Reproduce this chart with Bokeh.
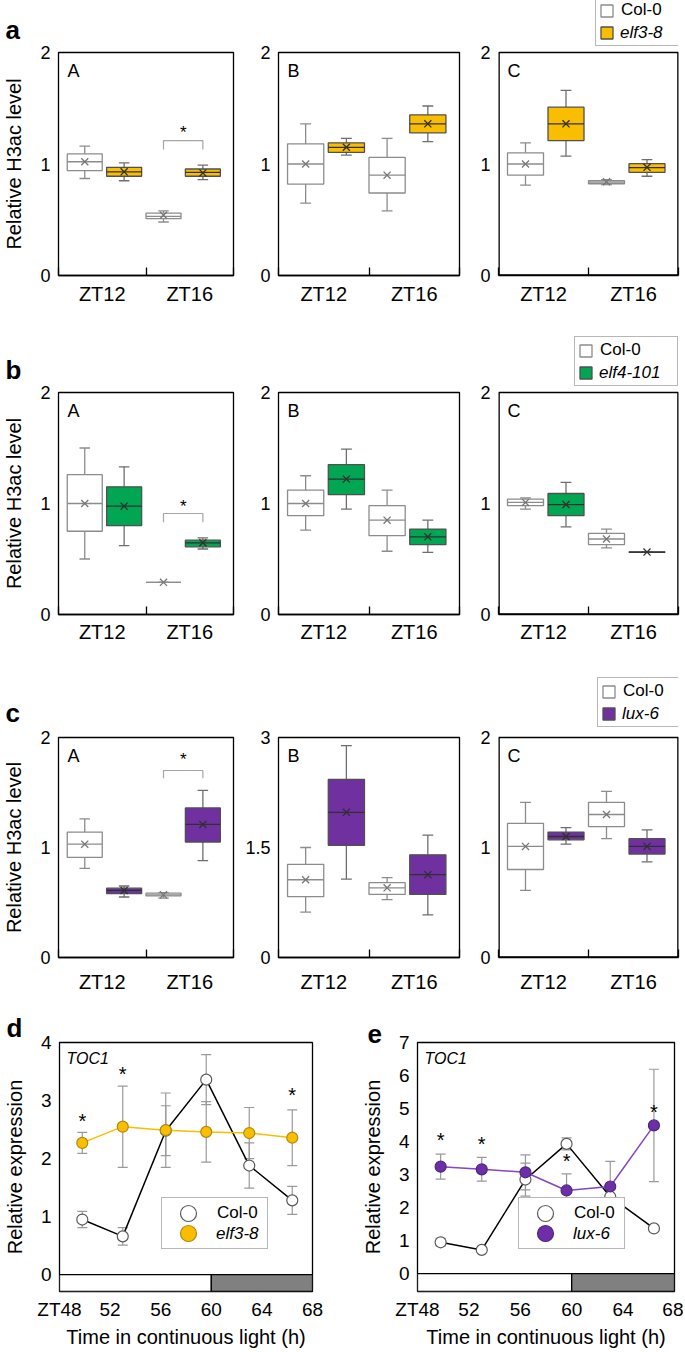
from bokeh.plotting import figure
from bokeh.layouts import row, column
from bokeh.models import (ColumnDataSource, FixedTicker, LinearAxis, Legend, LegendItem,
                          Label, Whisker, TeeHead, Range1d)
from bokeh.embed import file_html
from bokeh.resources import INLINE
from bokeh.core.properties import value

FONT = "Liberation Sans"

# ---------------- data ----------------
zt_groups = ["ZT12", "ZT16"]
regions = ["A", "B", "C"]
mutant_a = "elf3-8"
mutant_b = "elf4-101"
mutant_c = "lux-6"

# box statistics per ZT group: [whisker_low, q1, median, q3, whisker_high, mean]
a_A_col = [[0.87, 0.94, 1.02, 1.09, 1.16, 1.02], [0.48, 0.51, 0.53, 0.56, 0.58, 0.54]]
a_A_mut = [[0.85, 0.89, 0.93, 0.97, 1.01, 0.93], [0.86, 0.89, 0.925, 0.955, 0.99, 0.92]]
a_B_col = [[0.65, 0.82, 1.00, 1.18, 1.36, 1.00], [0.58, 0.74, 0.90, 1.06, 1.23, 0.90]]
a_B_mut = [[1.08, 1.105, 1.15, 1.19, 1.23, 1.15], [1.20, 1.28, 1.36, 1.44, 1.52, 1.36]]
a_C_col = [[0.81, 0.90, 1.00, 1.10, 1.19, 1.00], [0.815, 0.823, 0.838, 0.85, 0.86, 0.84]]
a_C_mut = [[1.07, 1.21, 1.36, 1.51, 1.66, 1.36], [0.89, 0.925, 0.967, 1.003, 1.04, 0.97]]

b_A_col = [[0.50, 0.75, 1.00, 1.26, 1.50, 1.00], [0.29, 0.29, 0.29, 0.29, 0.29, 0.29]]
b_A_mut = [[0.62, 0.80, 0.976, 1.15, 1.33, 0.976], [0.59, 0.61, 0.646, 0.67, 0.69, 0.646]]
b_B_col = [[0.76, 0.89, 1.00, 1.12, 1.25, 1.00], [0.57, 0.71, 0.85, 0.98, 1.12, 0.85]]
b_B_mut = [[0.95, 1.08, 1.22, 1.35, 1.49, 1.22], [0.56, 0.63, 0.70, 0.77, 0.85, 0.70]]
b_C_col = [[0.95, 0.98, 1.01, 1.04, 1.05, 1.01], [0.60, 0.63, 0.68, 0.73, 0.77, 0.68]]
b_C_mut = [[0.79, 0.89, 0.99, 1.09, 1.19, 0.99], [0.559, 0.561, 0.562, 0.563, 0.565, 0.562]]

c_A_col = [[0.81, 0.91, 1.03, 1.14, 1.26, 1.03], [0.54, 0.56, 0.57, 0.585, 0.59, 0.57]]
c_A_mut = [[0.55, 0.58, 0.61, 0.63, 0.65, 0.61], [0.88, 1.05, 1.21, 1.36, 1.52, 1.21]]
c_B_col = [[0.62, 0.83, 1.06, 1.27, 1.50, 1.06], [0.79, 0.86, 0.95, 1.02, 1.09, 0.95]]
c_B_mut = [[1.07, 1.53, 1.98, 2.43, 2.89, 1.98], [0.58, 0.86, 1.13, 1.40, 1.67, 1.13]]
c_C_col = [[0.61, 0.80, 1.01, 1.22, 1.41, 1.01], [1.08, 1.19, 1.30, 1.41, 1.51, 1.30]]
c_C_mut = [[1.03, 1.07, 1.10, 1.14, 1.18, 1.10], [0.87, 0.94, 1.01, 1.08, 1.16, 1.01]]

# y ticks of the box panels
yticks_2 = [0, 1, 2]
ylabels_2 = ["0", "1", "2"]
yticks_3 = [0, 1.5, 3]
ylabels_3 = ["0", "1.5", "3"]

# significance at ZT16 in region A: [bracket_y, bracket_foot, star_y]
a_A_sig = [1.21, 1.13, 1.28]
b_A_sig = [0.91, 0.83, 0.97]
c_A_sig = [1.70, 1.63, 1.80]

# TOC1 expression (d, e)
time_h = [49.8, 53.0, 56.4, 59.6, 63.0, 66.4]
d_col = [0.95, 0.66, 2.48, 3.36, 1.88, 1.28]
d_col_err = [0.14, 0.15, 0.43, 0.43, 0.39, 0.24]
d_mut = [2.27, 2.55, 2.49, 2.46, 2.44, 2.36]
d_mut_err = [0.18, 0.70, 0.64, 0.52, 0.44, 0.48]
d_star_x = [49.8, 53.0, 66.4]
d_star_y = [2.64, 3.46, 3.09]

e_col = [0.95, 0.72, 2.85, 3.93, 2.33, 1.37]
e_col_err = [0.12, 0.05, 0.50, 0.18, 0.37, 0.08]
e_mut = [3.24, 3.16, 3.07, 2.52, 2.64, 4.49]
e_mut_err = [0.38, 0.36, 0.53, 0.50, 0.76, 1.70]
e_star_x = [49.8, 53.0, 59.6, 66.4]
e_star_y = [4.06, 3.93, 3.42, 4.91]

time_ticks = [48, 52, 56, 60, 64, 68]
time_tick_labels = ["ZT48", "52", "56", "60", "64", "68"]
light_dark_edges = [48, 60, 68]
light_dark_colors = ["white", "#808080"]
d_yticks = [0, 1, 2, 3, 4]
e_yticks = [0, 1, 2, 3, 4, 5, 6, 7]

# ---------------- style / layout ----------------
ELF3 = "#F9BE00"
ELF4 = "#00A651"
LUX = "#7030A0"
GRAY = "#8c8c8c"
NBSP = "\u00a0"

BOX_W = 0.2
CAP_W = 0.06
GROUP_X = [0.2625, 0.7125]
SERIES_DX = [-0.1125, 0.1125]
LABEL_X = [0.25, 0.75]

ROW_A = dict(height=328, top=52, bottom=53, gap=13, std=7, letter_std=15)
ROW_B = dict(height=334, top=64, bottom=48, gap=16, std=6, letter_std=16)
ROW_C = dict(height=342, top=75, bottom=47, gap=8, std=13, letter_std=19)
COLS = [dict(width=240, left=53, right=7),
        dict(width=235, left=38, right=16),
        dict(width=208, left=23, right=5)]


def style_common(p):
    p.grid.visible = False
    p.outline_line_color = "black"
    p.outline_line_width = 1.3
    p.background_fill_color = "white"
    p.border_fill_color = "white"


def quiet_ticks(ax):
    ax.major_tick_in = 0
    ax.major_tick_out = 0
    ax.minor_tick_in = 0
    ax.minor_tick_out = 0
    ax.axis_line_color = None
    ax.major_tick_line_color = None
    ax.minor_tick_line_color = None


def draw_boxes(p, stats, s, fill, edge, whisk, med, mean_col):
    xs = [GROUP_X[g] + SERIES_DX[s] for g in range(len(stats))]
    cols = list(zip(*stats))
    src = ColumnDataSource(dict(
        x=xs, l=[x - BOX_W / 2 for x in xs], r=[x + BOX_W / 2 for x in xs],
        cl=[x - CAP_W / 2 for x in xs], cr=[x + CAP_W / 2 for x in xs],
        lo=list(cols[0]), q1=list(cols[1]), md=list(cols[2]),
        q3=list(cols[3]), hi=list(cols[4]), mn=list(cols[5])))
    kw = dict(source=src, line_color=whisk, line_width=1.3)
    p.segment(x0="x", y0="lo", x1="x", y1="q1", **kw)
    p.segment(x0="x", y0="q3", x1="x", y1="hi", **kw)
    p.segment(x0="cl", y0="lo", x1="cr", y1="lo", **kw)
    p.segment(x0="cl", y0="hi", x1="cr", y1="hi", **kw)
    r = p.quad(left="l", right="r", bottom="q1", top="q3", source=src,
               fill_color=fill, line_color=edge, line_width=1.3)
    p.segment(x0="l", y0="md", x1="r", y1="md", source=src, line_color=med, line_width=1.3)
    p.scatter(x="x", y="mn", source=src, marker="x", size=10, line_color=mean_col, line_width=1.3)
    return r


def two_style_legend(p, first_rs, second_rs, first_label, second_label, label_w, loc,
                     font_size, glyph_w, glyph_h, padding, spacing, standoff):
    blank = p.scatter(x=[], y=[], fill_alpha=0, line_alpha=0)
    common = dict(location=loc, orientation="vertical", margin=0, padding=padding, spacing=spacing,
                  glyph_width=glyph_w, glyph_height=glyph_h, label_standoff=standoff,
                  label_height=glyph_h, label_width=label_w, label_text_font=FONT,
                  label_text_font_size=font_size, label_text_color="black")
    l1 = Legend(items=[LegendItem(label=first_label, renderers=first_rs),
                       LegendItem(label=NBSP, renderers=second_rs)],
                border_line_color="#707070", border_line_width=1,
                background_fill_color="white", background_fill_alpha=1, **common)
    l2 = Legend(items=[LegendItem(label=NBSP, renderers=[blank]),
                       LegendItem(label=second_label, renderers=[blank])],
                border_line_alpha=0, background_fill_alpha=0,
                label_text_font_style="italic", **common)
    p.add_layout(l1)
    p.add_layout(l2)


def box_panel(col_stats, mut_stats, mut_fill, region, y_end, y_ticks, y_labels, rc, cc,
              ylabel=None, sig=None, letter=None, legend=None):
    frame_h = rc["height"] - rc["top"] - rc["bottom"]
    extra = {}
    if legend is not None:
        # the plot area reaches the top of the canvas so that the key can sit above the box
        y_top = y_end * (frame_h + rc["top"]) / frame_h
        top_border = 0
        extra["frame_align"] = False
    else:
        y_top = y_end
        top_border = rc["top"]
    p = figure(width=cc["width"], height=rc["height"], x_range=Range1d(0, 1),
               y_range=Range1d(0, y_top), x_axis_location=None, title=letter,
               toolbar_location=None, output_backend="svg",
               min_border_left=cc["left"], min_border_right=cc["right"],
               min_border_top=top_border, min_border_bottom=rc["bottom"], **extra)
    style_common(p)
    if legend is not None:
        p.outline_line_color = None
        p.multi_line(xs=[[0, 0], [1, 1], [0, 1]], ys=[[0, y_end], [0, y_end], [0, 0]],
                     line_color="black", line_width=2.6)
        p.line(x=[0, 1], y=[y_end, y_end], line_color="black", line_width=1.3)
    yax = p.yaxis[0]
    yax.ticker = FixedTicker(ticks=y_ticks)
    yax.major_label_overrides = {t: lab for t, lab in zip(y_ticks, y_labels)}
    quiet_ticks(yax)
    yax.major_label_text_font = FONT
    yax.major_label_text_font_size = "18px"
    yax.major_label_text_color = "black"
    yax.major_label_standoff = 8
    if ylabel:
        yax.axis_label = ylabel
        yax.axis_label_text_font = FONT
        yax.axis_label_text_font_size = "20px"
        yax.axis_label_text_font_style = "normal"
        yax.axis_label_text_color = "black"
        yax.axis_label_standoff = 12

    spacer = LinearAxis(ticker=FixedTicker(ticks=[]), axis_line_color=None,
                        major_tick_line_color=None, minor_tick_line_color=None,
                        major_tick_in=0, major_tick_out=rc["gap"], minor_tick_in=0,
                        minor_tick_out=0, major_label_standoff=0)
    p.add_layout(spacer, "below")
    brk = LinearAxis(ticker=FixedTicker(ticks=LABEL_X, minor_ticks=[0, 0.5, 1]),
                     major_label_overrides={x: g for x, g in zip(LABEL_X, zt_groups)},
                     axis_line_color="black", axis_line_width=1.3,
                     major_tick_line_color=None, major_tick_in=0, major_tick_out=0,
                     minor_tick_line_color="black", minor_tick_line_width=1.3,
                     minor_tick_in=8, minor_tick_out=0,
                     major_label_text_font=FONT, major_label_text_font_size="20px",
                     major_label_text_color="black", major_label_standoff=rc["std"])
    p.add_layout(brk, "below")

    r_col = draw_boxes(p, col_stats, 0, "white", GRAY, GRAY, GRAY, "#777777")
    r_mut = draw_boxes(p, mut_stats, 1, mut_fill, "#505050", "#6e6e6e", "#303030", "#303030")

    if sig is not None:
        x0 = GROUP_X[1] + SERIES_DX[0]
        x1 = GROUP_X[1] + SERIES_DX[1]
        p.line(x=[x0, x0, x1, x1], y=[sig[1], sig[0], sig[0], sig[1]],
               line_color="#a6a6a6", line_width=1.2)
        p.text(x=[(x0 + x1) / 2], y=[sig[2]], text=["*"], text_align="center",
               text_baseline="middle", text_font=value(FONT), text_font_size="17px",
               text_color="black")

    p.add_layout(Label(x=0, y=y_end, x_offset=9, y_offset=-8, text=region,
                       text_baseline="top", text_font=FONT, text_font_size="18px",
                       text_color="black"))
    if letter:
        p.title.text_font = FONT
        p.title.text_font_size = "26px"
        p.title.text_font_style = "bold"
        p.title.text_color = "black"
        p.title.align = "left"
        p.title.offset = -53
        p.title.standoff = rc["letter_std"]
    if legend is not None:
        mut_label, label_w, loc = legend
        two_style_legend(p, [r_col], [r_mut], "Col-0", mut_label, label_w, loc,
                         "17px", 15, 15, 3, 2, 7)
    return p


def box_row(col_list, mut_list, mut_fill, rc, sig, legend_cfg, letter, yt_list, yl_list, yend_list):
    figs = []
    for i in range(3):
        figs.append(box_panel(col_list[i], mut_list[i], mut_fill, regions[i], yend_list[i],
                              yt_list[i], yl_list[i], rc, COLS[i],
                              ylabel="Relative H3ac level" if i == 0 else None,
                              sig=sig if i == 0 else None,
                              letter=letter if i == 0 else None,
                              legend=legend_cfg if i == 2 else None))
    return row(*figs)


row_a = box_row([a_A_col, a_B_col, a_C_col], [a_A_mut, a_B_mut, a_C_mut], ELF3, ROW_A,
                a_A_sig, (mutant_a, 54, (97, 229)), "a",
                [yticks_2] * 3, [ylabels_2] * 3, [2, 2, 2])
row_b = box_row([b_A_col, b_B_col, b_C_col], [b_A_mut, b_B_mut, b_C_mut], ELF4, ROW_B,
                b_A_sig, (mutant_b, 74, (76, 228)), "b",
                [yticks_2] * 3, [ylabels_2] * 3, [2, 2, 2])
row_c = box_row([c_A_col, c_B_col, c_C_col], [c_A_mut, c_B_mut, c_C_mut], LUX, ROW_C,
                c_A_sig, (mutant_c, 52, (99, 230)), "c",
                [yticks_2, yticks_3, yticks_2], [ylabels_2, ylabels_3, ylabels_2], [2, 3, 2])


def expr_panel(col_v, col_e, mut_v, mut_e, mut_line, mut_fill, mut_edge, mut_label,
               y_start, y_end, y_ticks, star_x, star_y, width, left, right, letter,
               letter_offset, legend_loc):
    p = figure(width=width, height=346, x_range=Range1d(48, 68), y_range=Range1d(y_start, y_end),
               title=letter, toolbar_location=None, output_backend="svg",
               min_border_left=left, min_border_right=right, min_border_top=38, min_border_bottom=56)
    style_common(p)
    # light / dark bar
    p.quad(left=light_dark_edges[:-1], right=light_dark_edges[1:],
           bottom=[y_start] * 2, top=[0] * 2, fill_color=light_dark_colors,
           line_color="black", line_width=1.3)

    src_c = ColumnDataSource(dict(t=time_h, v=col_v, lo=[v - e for v, e in zip(col_v, col_e)],
                                  hi=[v + e for v, e in zip(col_v, col_e)]))
    src_m = ColumnDataSource(dict(t=time_h, v=mut_v, lo=[v - e for v, e in zip(mut_v, mut_e)],
                                  hi=[v + e for v, e in zip(mut_v, mut_e)]))
    for src in (src_c, src_m):
        p.add_layout(Whisker(source=src, base="t", lower="lo", upper="hi",
                             line_color="#9a9a9a", line_width=1.2, level="underlay",
                             upper_head=TeeHead(size=10, line_color="#9a9a9a", line_width=1.2),
                             lower_head=TeeHead(size=10, line_color="#9a9a9a", line_width=1.2)))
    p.line("t", "v", source=src_c, line_color="black", line_width=1.5)
    p.scatter("t", "v", source=src_c, size=11, fill_color="white", line_color="#595959", line_width=1.2)
    p.line("t", "v", source=src_m, line_color=mut_line, line_width=1.5)
    p.scatter("t", "v", source=src_m, size=11, fill_color=mut_fill, line_color=mut_edge, line_width=1.2)

    p.text(x=star_x, y=star_y, text=["*"] * len(star_x), text_align="center",
           text_baseline="middle", text_font=value(FONT), text_font_size="20px", text_color="black")
    p.add_layout(Label(x=48, y=y_end, x_offset=7, y_offset=-7, text="TOC1", text_baseline="top",
                       text_font=FONT, text_font_size="16px", text_font_style="italic",
                       text_color="black"))

    # legend proxies (not drawn in the plot area)
    leg_line = p.line(x=[], y=[], line_color="black", line_width=1.5)
    nan = float("nan")
    leg_c = p.ellipse(x=[nan], y=[nan], width=16, height=16, width_units="screen",
                      height_units="screen", fill_color="white", line_color="#595959", line_width=1.2)
    leg_m = p.ellipse(x=[nan], y=[nan], width=16, height=16, width_units="screen",
                      height_units="screen", fill_color=mut_fill, line_color=mut_edge, line_width=1.2)
    two_style_legend(p, [leg_line, leg_c], [leg_line, leg_m], "Col-0", mut_label, 45, legend_loc,
                     "17px", 42, 20, 5, 0, 8)

    xax = p.xaxis[0]
    xax.ticker = FixedTicker(ticks=time_ticks)
    xax.major_label_overrides = {t: lab for t, lab in zip(time_ticks, time_tick_labels)}
    quiet_ticks(xax)
    xax.major_label_text_font = FONT
    xax.major_label_text_font_size = "19px"
    xax.major_label_text_color = "black"
    xax.major_label_standoff = 7
    xax.axis_label = "Time in continuous light (h)"
    xax.axis_label_text_font = FONT
    xax.axis_label_text_font_size = "20px"
    xax.axis_label_text_font_style = "normal"
    xax.axis_label_text_color = "black"
    xax.axis_label_standoff = 3

    yax = p.yaxis[0]
    yax.ticker = FixedTicker(ticks=y_ticks)
    quiet_ticks(yax)
    yax.major_label_text_font = FONT
    yax.major_label_text_font_size = "19px"
    yax.major_label_text_color = "black"
    yax.major_label_standoff = 8
    yax.axis_label = "Relative expression"
    yax.axis_label_text_font = FONT
    yax.axis_label_text_font_size = "20px"
    yax.axis_label_text_font_style = "normal"
    yax.axis_label_text_color = "black"
    yax.axis_label_standoff = 12

    p.title.text_font = FONT
    p.title.text_font_size = "26px"
    p.title.text_font_style = "bold"
    p.title.text_color = "black"
    p.title.align = "left"
    p.title.offset = letter_offset
    p.title.standoff = 0
    return p


fig_d = expr_panel(d_col, d_col_err, d_mut, d_mut_err, ELF3, ELF3, "#b08a10", mutant_a,
                   -0.29, 4, d_yticks, d_star_x, d_star_y, 340, 53, 28, "d", -53, (102, 42))
fig_e = expr_panel(e_col, e_col_err, e_mut, e_mut_err, "#8644C6", "#6F2DA8", "#4a2a80", mutant_c,
                   -0.54, 7, e_yticks, e_star_x, e_star_y, 343, 77, 9, "e", -50, (101, 42))

layout = column(row_a, row_b, row_c, row(fig_d, fig_e))
open("out.html", "w").write(file_html(layout, INLINE))
